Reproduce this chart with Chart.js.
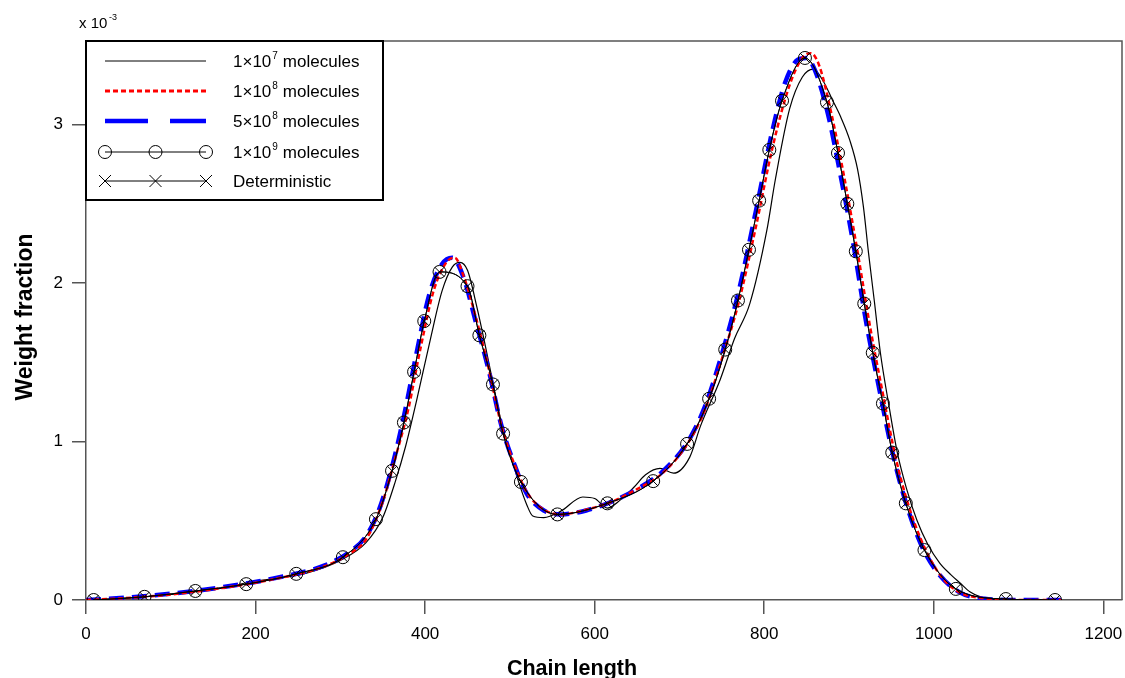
<!DOCTYPE html>
<html>
<head>
<meta charset="utf-8">
<script src="https://cdn.jsdelivr.net/npm/chart.js@4"></script>
<style>
  html, body { margin: 0; padding: 0; background: #fff; }
  #wrap { width: 1125px; height: 678px; }
</style>
</head>
<body>
<div id="wrap"><canvas id="chart" width="1125" height="678"></canvas></div>
<script>
// weight fraction in units of 1e-3, x = chain length

// 1x10^9 molecules and deterministic share the sampled points (markers)
const markerX = [9, 69, 129, 189, 248, 303, 342, 361, 375, 387, 399, 417, 450, 464, 480, 492, 513, 556, 615, 669, 709,
    735, 754, 769, 782, 794, 806, 821, 848, 874, 887, 898, 908, 918, 928, 940, 951, 967, 989, 1026, 1085, 1143];
const e9Y = [0, 0.02, 0.057, 0.10, 0.165, 0.27, 0.51, 0.815, 1.12, 1.44, 1.76, 2.07, 1.98, 1.67, 1.36, 1.05, 0.745, 0.54, 0.61, 0.75, 0.985,
    1.27, 1.58, 1.89, 2.21, 2.52, 2.84, 3.15, 3.42, 3.14, 2.82, 2.50, 2.20, 1.87, 1.56, 1.24, 0.93, 0.61, 0.315, 0.07, 0.006, 0];
const detY = [0, 0.02, 0.057, 0.10, 0.165, 0.27, 0.51, 0.815, 1.12, 1.44, 1.76, 2.07, 1.98, 1.67, 1.36, 1.05, 0.745, 0.54, 0.61, 0.75, 0.985,
    1.27, 1.58, 1.89, 2.21, 2.52, 2.84, 3.15, 3.42, 3.14, 2.82, 2.50, 2.20, 1.87, 1.56, 1.24, 0.93, 0.61, 0.315, 0.07, 0.006, 0];

// 1x10^7 molecules (noisy, shifted right)
const e7X = [0, 50, 100, 160, 200, 230, 260, 300, 330, 350, 365, 377, 390, 406, 420, 432, 441, 450, 461, 470, 480, 490, 498, 510, 520,
    527, 540, 560, 586, 600, 615, 630, 646, 660, 677, 693, 712, 725, 748, 765, 783, 803, 813, 830, 845, 858, 870, 880, 890, 901,
    910, 917, 923, 930, 937, 947, 957, 968, 980, 993, 1007, 1020, 1031, 1043, 1055, 1075, 1100, 1150];
const e7Y = [0, 0.012, 0.035, 0.075, 0.12, 0.14, 0.17, 0.25, 0.36, 0.52, 0.75, 0.97, 1.26, 1.64, 1.95, 2.1, 2.13, 2.08, 1.85, 1.63, 1.37, 1.12, 0.97, 0.75, 0.6,
    0.53, 0.52, 0.56, 0.65, 0.64, 0.58, 0.63, 0.71, 0.79, 0.83, 0.80, 0.90, 1.10, 1.39, 1.65, 1.87, 2.33, 2.65, 3.1, 3.3, 3.35, 3.27, 3.16, 3.05, 2.90,
    2.72, 2.48, 2.19, 1.88, 1.56, 1.23, 0.93, 0.7, 0.505, 0.35, 0.233, 0.16, 0.107, 0.05, 0.02, 0.003, 0, 0];

// 1x10^8 molecules
const e8X = [0, 40, 100, 160, 220, 280, 310, 330, 350, 365, 380, 395, 410, 425, 435, 445, 460, 475, 490, 505, 520, 540, 560, 590, 620,
    650, 680, 710, 730, 750, 770, 790, 810, 830, 845, 855, 865, 880, 895, 910, 925, 940, 955, 970, 990, 1010, 1030, 1060, 1100, 1150];
const e8Y = [0, 0.01, 0.035, 0.075, 0.13, 0.21, 0.29, 0.38, 0.62, 0.9, 1.2, 1.6, 1.95, 2.13, 2.16, 2.05, 1.78, 1.46, 1.1, 0.86, 0.68, 0.57, 0.54, 0.57, 0.62,
    0.7, 0.8, 0.99, 1.2, 1.52, 1.88, 2.35, 2.86, 3.25, 3.42, 3.45, 3.37, 3.05, 2.65, 2.2, 1.72, 1.3, 0.9, 0.6, 0.32, 0.14, 0.05, 0.01, 0, 0];

// 5x10^8 molecules
const e58X = [0, 40, 100, 160, 220, 280, 310, 330, 345, 360, 375, 390, 405, 420, 432, 445, 460, 475, 490, 505, 520, 540, 560, 590, 620,
    650, 680, 710, 730, 750, 770, 790, 810, 825, 840, 850, 860, 875, 890, 905, 920, 935, 950, 965, 985, 1005, 1030, 1060, 1100, 1150];
const e58Y = [0, 0.012, 0.04, 0.08, 0.135, 0.215, 0.30, 0.40, 0.56, 0.82, 1.16, 1.56, 1.93, 2.12, 2.16, 2.04, 1.75, 1.45, 1.1, 0.86, 0.67, 0.565, 0.54, 0.565, 0.62,
    0.70, 0.81, 1.00, 1.22, 1.55, 1.95, 2.45, 2.97, 3.27, 3.41, 3.42, 3.34, 3.07, 2.68, 2.25, 1.76, 1.35, 0.96, 0.65, 0.35, 0.17, 0.05, 0.008, 0, 0];

const xTickValues = [0, 200, 400, 600, 800, 1000, 1200];
const yTickValues = [0, 1, 2, 3];

const font = 'Liberation Sans, Arial, sans-serif';
const axisGray = '#555';

function pts(xs, ys) {
    return xs.map((x, i) => ({ x: x, y: ys[i] }));
}

// frame, titles, multiplier and legend box
const decorations = {
    id: 'decorations',
    afterDraw(chart) {
        const ctx = chart.ctx;
        const a = chart.chartArea;
        ctx.save();

        // top and right sides of the frame
        ctx.strokeStyle = axisGray;
        ctx.lineWidth = 1.5;
        ctx.beginPath();
        ctx.moveTo(a.left, a.top);
        ctx.lineTo(a.right, a.top);
        ctx.lineTo(a.right, a.bottom);
        ctx.stroke();

        ctx.fillStyle = '#000';
        ctx.textBaseline = 'alphabetic';

        // x 10^-3
        ctx.font = '15px ' + font;
        ctx.textAlign = 'left';
        ctx.fillText('x 10', 79, 28);
        ctx.font = '9px ' + font;
        ctx.fillText('-3', 109, 20);

        // axis titles
        ctx.font = 'bold 21.5px ' + font;
        ctx.textAlign = 'center';
        ctx.fillText('Chain length', 572, 675);
        ctx.save();
        ctx.translate(32, 317);
        ctx.rotate(-Math.PI / 2);
        ctx.font = 'bold 23px ' + font;
        ctx.fillText('Weight fraction', 0, 0);
        ctx.restore();

        // legend
        const lx = a.left, ly = a.top, lw = 297, lh = 159;
        ctx.fillStyle = '#fff';
        ctx.fillRect(lx, ly, lw, lh);
        ctx.strokeStyle = '#000';
        ctx.lineWidth = 2;
        ctx.strokeRect(lx, ly, lw, lh);

        const x0 = 105, x1 = 206, tx = 233;
        const rows = [61, 91, 121, 152, 181];

        function seg(y, color, width, dash) {
            ctx.beginPath();
            ctx.setLineDash(dash);
            ctx.strokeStyle = color;
            ctx.lineWidth = width;
            ctx.moveTo(x0, y);
            ctx.lineTo(x1, y);
            ctx.stroke();
            ctx.setLineDash([]);
        }
        seg(rows[0], '#000', 1, []);
        seg(rows[1], '#ff0000', 3, [5, 3]);
        seg(rows[2], '#0000ff', 4.5, [43, 22]);
        seg(rows[3], '#000', 1, []);
        seg(rows[4], '#000', 1, []);

        ctx.strokeStyle = '#000';
        ctx.lineWidth = 1;
        [x0, (x0 + x1) / 2, x1].forEach(cx => {
            ctx.beginPath();
            ctx.arc(cx, rows[3], 6.5, 0, Math.PI * 2);
            ctx.stroke();
            const r = 6;
            ctx.beginPath();
            ctx.moveTo(cx - r, rows[4] - r);
            ctx.lineTo(cx + r, rows[4] + r);
            ctx.moveTo(cx + r, rows[4] - r);
            ctx.lineTo(cx - r, rows[4] + r);
            ctx.stroke();
        });

        ctx.fillStyle = '#000';
        ctx.textAlign = 'left';
        const labels = [['1\u00d710', '7', 'molecules'], ['1\u00d710', '8', 'molecules'],
            ['5\u00d710', '8', 'molecules'], ['1\u00d710', '9', 'molecules'], ['Deterministic', '', '']];
        labels.forEach((l, i) => {
            const by = rows[i] + 6;
            ctx.font = '17px ' + font;
            ctx.fillText(l[0], tx, by);
            let w = ctx.measureText(l[0]).width;
            if (l[1]) {
                ctx.font = '10px ' + font;
                ctx.fillText(l[1], tx + w + 1, by - 8);
                w += 1 + ctx.measureText(l[1]).width + 5;
                ctx.font = '17px ' + font;
                ctx.fillText(l[2], tx + w, by);
            }
        });
        ctx.restore();
    }
};

new Chart(document.getElementById('chart'), {
    type: 'scatter',
    data: {
        datasets: [
            {
                label: 'Deterministic',
                data: pts(markerX, detY),
                showLine: true,
                borderColor: '#000',
                borderWidth: 1,
                cubicInterpolationMode: 'monotone',
                pointStyle: 'crossRot',
                pointRadius: 7,
                pointBorderColor: '#000',
                pointBorderWidth: 1,
                order: 0
            },
            {
                label: '1\u00d710\u2079 molecules',
                data: pts(markerX, e9Y),
                showLine: true,
                borderColor: '#000',
                borderWidth: 1,
                cubicInterpolationMode: 'monotone',
                pointStyle: 'circle',
                pointRadius: 6.5,
                pointBorderColor: '#000',
                pointBackgroundColor: 'rgba(0,0,0,0)',
                pointBorderWidth: 1,
                order: 1
            },
            {
                label: '1\u00d710\u2078 molecules',
                data: pts(e8X, e8Y),
                showLine: true,
                borderColor: '#ff0000',
                borderWidth: 2.5,
                borderDash: [5, 3],
                cubicInterpolationMode: 'monotone',
                pointRadius: 0,
                order: 2
            },
            {
                label: '5\u00d710\u2078 molecules',
                data: pts(e58X, e58Y),
                showLine: true,
                borderColor: '#0000ff',
                borderWidth: 4.5,
                borderDash: [15, 8],
                cubicInterpolationMode: 'monotone',
                pointRadius: 0,
                order: 3
            },
            {
                label: '1\u00d710\u2077 molecules',
                data: pts(e7X, e7Y),
                showLine: true,
                borderColor: '#000',
                borderWidth: 1.2,
                cubicInterpolationMode: 'monotone',
                pointRadius: 0,
                order: 4
            }
        ]
    },
    options: {
        responsive: false,
        animation: false,
        layout: { autoPadding: false, padding: { top: 41, right: 3, left: 0, bottom: 0 } },
        plugins: {
            legend: { display: false },
            tooltip: { enabled: false }
        },
        scales: {
            x: {
                type: 'linear',
                min: 0,
                max: 1222,
                afterFit: s => { s.height = 78; s.paddingLeft = 0; s.paddingRight = 0; },
                afterBuildTicks: s => { s.ticks = xTickValues.map(v => ({ value: v })); },
                border: { display: true, color: axisGray, width: 1.5 },
                grid: { drawOnChartArea: false, drawTicks: true, tickLength: 14, color: axisGray, lineWidth: 1.5 },
                ticks: { color: '#000', padding: 10, maxRotation: 0, autoSkip: false,
                    callback: v => String(v),
                    font: { family: font, size: 17 } }
            },
            y: {
                min: 0,
                max: 3.527,
                afterFit: s => { s.width = 86; s.paddingTop = 0; s.paddingBottom = 0; },
                afterBuildTicks: s => { s.ticks = yTickValues.map(v => ({ value: v })); },
                border: { display: true, color: axisGray, width: 1.5 },
                grid: { drawOnChartArea: false, drawTicks: true, tickLength: 14, color: axisGray, lineWidth: 1.5 },
                ticks: { color: '#000', padding: 9, autoSkip: false,
                    callback: v => String(v),
                    font: { family: font, size: 17 } }
            }
        }
    },
    plugins: [decorations]
});
</script>
</body>
</html>
